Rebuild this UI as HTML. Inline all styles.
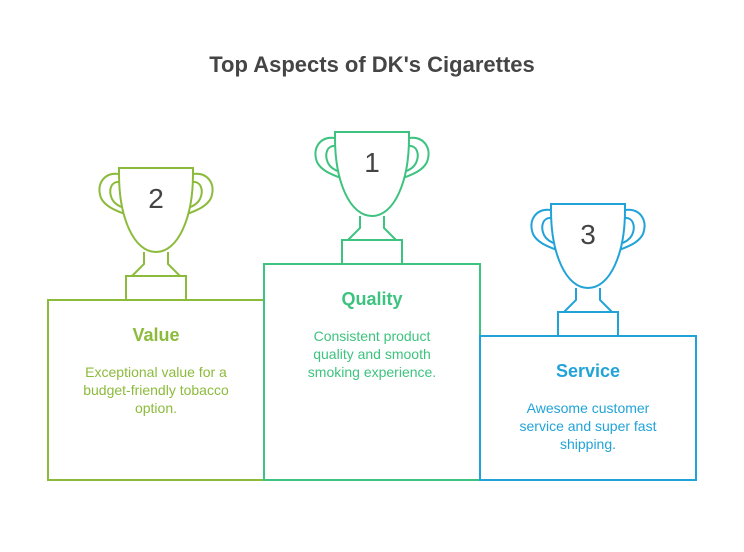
<!DOCTYPE html>
<html><head><style>
body{margin:0;width:744px;height:552px;background:#fff;overflow:hidden;font-family:"Liberation Sans",sans-serif}
.t{position:absolute;width:216px;text-align:center}
.h{font-weight:bold;font-size:18px}
.b{font-size:14px;line-height:18px}
</style></head><body>
<div class="t" style="left:0;width:744px;top:52px;font-size:22px;font-weight:bold;color:#454545">Top Aspects of DK's Cigarettes</div>
<svg width="744" height="552" style="position:absolute;left:0;top:0" fill="none" stroke-width="2">
<defs>
<g id="tr">
<path d="M-37,6 C-52,4 -60,16 -55,30 C-51,38 -42,42 -31,46 M-36,14 C-45,13 -48,22 -44,31 C-42,35 -38,38 -32,40"/>
<path d="M37,6 C52,4 60,16 55,30 C51,38 42,42 31,46 M36,14 C45,13 48,22 44,31 C42,35 38,38 32,40"/>
<path fill="#fff" d="M-37,0 H37 V6 C37,50 22,84 0,84 C-22,84 -37,50 -37,6 Z"/>
<path d="M-12,84 V96 L-24,108 M12,84 V96 L24,108"/>
<rect x="-30" y="108" width="60" height="24"/>
</g>
</defs>
<g stroke="#8cbb3c"><use href="#tr" transform="translate(156,168)"/><rect x="48" y="300" width="216" height="180"/></g>
<g stroke="#3dc37f"><use href="#tr" transform="translate(372,132)"/><rect x="264" y="264" width="216" height="216"/></g>
<g stroke="#22a3d8"><use href="#tr" transform="translate(588,204)"/><rect x="480" y="336" width="216" height="144"/></g>
<g fill="#444" stroke="none" font-size="28" text-anchor="middle" font-family="Liberation Sans">
<text x="156" y="208">2</text><text x="372" y="172">1</text><text x="588" y="244">3</text>
</g>
</svg>
<div class="t h" style="left:48px;top:325px;color:#8cbb3c">Value</div>
<div class="t b" style="left:48px;top:363px;color:#8cbb3c">Exceptional value for a<br>budget-friendly tobacco<br>option.</div>
<div class="t h" style="left:264px;top:289px;color:#3dc37f">Quality</div>
<div class="t b" style="left:264px;top:327px;color:#3dc37f">Consistent product<br>quality and smooth<br>smoking experience.</div>
<div class="t h" style="left:480px;top:361px;color:#22a3d8">Service</div>
<div class="t b" style="left:480px;top:399px;color:#22a3d8">Awesome customer<br>service and super fast<br>shipping.</div>
</body></html>
